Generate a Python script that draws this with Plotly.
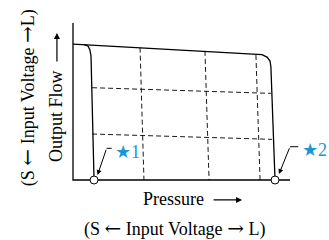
import plotly.graph_objects as go

# Schematic data (pressure 0..100, flow 0..100)
top_x = [0, 83.9, 87.1, 89.4, 90.8, 91.2, 93.1]
top_y = [86.6, 80.4, 79.9, 78.3, 75.8, 72.0, 0]
left_x = [5.1, 6.9, 7.8, 8.3, 9.7]
left_y = [86.2, 85.4, 82.8, 79.0, 0]
grid_v = [([30.9, 32.7], [84.3, 0]), ([60.8, 62.7], [82.2, 0]), ([84.3, 86.2], [79.6, 0])]
grid_h = [([8.8, 91.2], [58.8, 55.2]), ([8.8, 91.7], [29.3, 25.9])]
points_x = [9.7, 93.1]
points_y = [0, 0]
star_labels = ["★1", "★2"]
star_tip = [(11.3, 3.2), (94.9, 3.8)]
star_tail = [(15.5, 20.2), (100.0, 21.2)]
star_stub = [17.8, 103.8]
star_text = [(18.6, 18.0), (104.6, 19.1)]

BLUE = "#1a96d4"
SERIF = "Liberation Serif, Times New Roman, serif"
LA = '<span style="font-family:DejaVu Serif;font-size:20px">←</span>'
RA = '<span style="font-family:DejaVu Serif;font-size:20px">→</span>'

fig = go.Figure()
# axes
fig.add_trace(go.Scatter(x=[0, 0, 100], y=[100, 0, 0], mode="lines",
                         line=dict(color="black", width=1.3)))
for gx, gy in grid_v + grid_h:
    fig.add_trace(go.Scatter(x=gx, y=gy, mode="lines",
                             line=dict(color="black", width=0.9, dash="5px,3px")))
fig.add_trace(go.Scatter(x=top_x, y=top_y, mode="lines",
                         line=dict(color="black", width=1.3)))
fig.add_trace(go.Scatter(x=left_x, y=left_y, mode="lines",
                         line=dict(color="black", width=1.3)))
for tail, stub in zip(star_tail, star_stub):
    fig.add_trace(go.Scatter(x=[tail[0], stub], y=[tail[1], tail[1]], mode="lines",
                             line=dict(color="black", width=1)))
fig.add_trace(go.Scatter(x=points_x, y=points_y, mode="markers", cliponaxis=False,
                         marker=dict(size=8, color="white", line=dict(color="black", width=1))))

ann = []
for lab, tip, tail, tp in zip(star_labels, star_tip, star_tail, star_text):
    ann.append(dict(x=tip[0], y=tip[1], ax=tail[0], ay=tail[1], axref="x", ayref="y",
                    xref="x", yref="y", text="", showarrow=True, arrowhead=2,
                    arrowsize=1, arrowwidth=1, arrowcolor="black"))
    ann.append(dict(x=tp[0], y=tp[1], xref="x", yref="y", text=lab, showarrow=False,
                    xanchor="left", yanchor="middle",
                    font=dict(family=SERIF, size=18, color=BLUE)))
# axis titles
ann.append(dict(x=-7.8, y=40.8, xref="x", yref="y", text="Output Flow", textangle=-90,
                showarrow=False, xanchor="center", yanchor="middle",
                font=dict(family=SERIF, size=18, color="black")))
ann.append(dict(x=-7.4, y=93.6, ax=-7.4, ay=74.5, axref="x", ayref="y", xref="x", yref="y",
                text="", showarrow=True, arrowhead=2, arrowsize=1, arrowwidth=1.2,
                arrowcolor="black"))
ann.append(dict(x=-21.4, y=52.5, xref="x", yref="y", text=f"(S {LA} Input Voltage {RA}L)",
                textangle=-90, showarrow=False, xanchor="center", yanchor="middle",
                font=dict(family=SERIF, size=18, color="black")))
ann.append(dict(x=46.3, y=-12.4, xref="x", yref="y", text="Pressure", showarrow=False,
                xanchor="center", yanchor="middle",
                font=dict(family=SERIF, size=18, color="black")))
ann.append(dict(x=77.9, y=-12.7, ax=64.1, ay=-12.7, axref="x", ayref="y", xref="x", yref="y",
                text="", showarrow=True, arrowhead=2, arrowsize=1, arrowwidth=1.2,
                arrowcolor="black"))
ann.append(dict(x=47.0, y=-30.6, xref="x", yref="y", text=f"(S {LA} Input Voltage {RA} L)",
                showarrow=False, xanchor="center", yanchor="middle",
                font=dict(family=SERIF, size=18, color="black")))

fig.update_layout(
    width=329, height=240, margin=dict(l=0, r=0, t=0, b=0),
    paper_bgcolor="white", plot_bgcolor="white", showlegend=False,
    xaxis=dict(range=[-33.64, 117.97], visible=False, fixedrange=True),
    yaxis=dict(range=[-38.2, 114.65], visible=False, fixedrange=True),
    annotations=ann,
)
fig.write_html("out.html", config={"staticPlot": True},
               post_script="document.body.style.margin='0';document.body.style.overflow='hidden';")
